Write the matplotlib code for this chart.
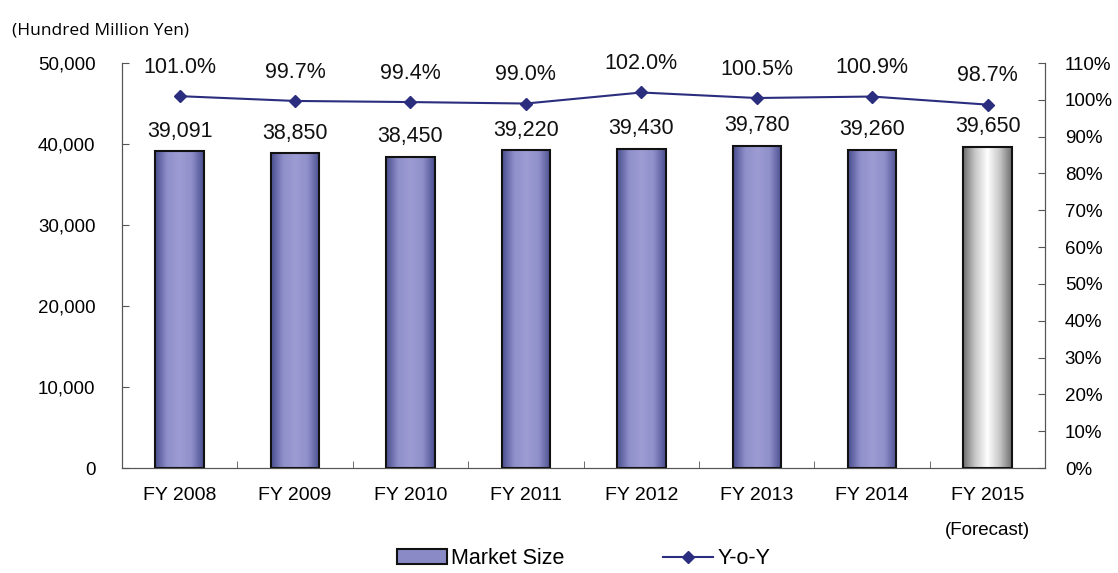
import numpy as np
import matplotlib.pyplot as plt
from matplotlib.colors import LinearSegmentedColormap
from matplotlib.lines import Line2D
from matplotlib.patches import Patch

years = ["FY 2008", "FY 2009", "FY 2010", "FY 2011", "FY 2012", "FY 2013", "FY 2014", "FY 2015"]
market_size = [39091, 38850, 38450, 39220, 39430, 39780, 39260, 39650]
yoy = [101.0, 99.7, 99.4, 99.0, 102.0, 100.5, 100.9, 98.7]

plt.rcParams['font.family'] = ['Liberation Sans', 'DejaVu Sans']

fig = plt.figure(figsize=(11.18, 5.73), dpi=100)
ax = fig.add_axes([0.109, 0.1832, 0.826, 0.7068])
ax2 = ax.twinx()

purple = LinearSegmentedColormap.from_list("p", ["#4a4e8e", "#8f8fca", "#9d9cd2", "#8f8fca", "#4a4e8e"])
gray = LinearSegmentedColormap.from_list("g", ["#6e6e6e", "#c8c8c8", "#ffffff", "#c8c8c8", "#6e6e6e"])
grad = np.linspace(0, 1, 256).reshape(1, -1)

x = np.arange(len(years))
w = 0.42
for i, v in enumerate(market_size):
    cmap = gray if i == len(years) - 1 else purple
    ax.imshow(grad, cmap=cmap, extent=(x[i] - w / 2, x[i] + w / 2, 0, v), aspect='auto', zorder=2)
    ax.text(x[i], v + 1200, f"{v:,}", ha='center', va='bottom', fontsize=15.5, color='#111')
ax.bar(x, market_size, width=w, facecolor='none', edgecolor='#111', linewidth=1.5, zorder=3)

ax.set_xlim(-0.5, len(years) - 0.5)
ax.set_ylim(0, 50000)
ax.set_yticks(range(0, 50001, 10000))
ax.set_yticklabels([f"{t:,}" for t in range(0, 50001, 10000)], fontsize=13.5)
ax.set_xticks(x)
ax.set_xticklabels(years, fontsize=14)
ax.set_xticks(np.arange(0.5, len(years) - 1, 1), minor=True)
ax.tick_params(axis='x', which='major', length=0, pad=14)
ax.tick_params(axis='x', which='minor', direction='in', length=5, color='#555')
ax.tick_params(axis='y', direction='in', length=5, color='#555', pad=19)
for s in ['left', 'right', 'bottom']:
    ax.spines[s].set_color('#555')
    ax2.spines[s].set_color('#555')
ax.spines['top'].set_visible(False)
ax2.spines['top'].set_visible(False)

ax2.plot(x, yoy, color='#2b2e7e', marker='D', markersize=6, linewidth=1.5, zorder=5)
for i, v in enumerate(yoy):
    ax2.text(x[i], v + 5.0, f"{v:.1f}%", ha='center', va='bottom', fontsize=15.5, color='#111')
ax2.set_ylim(0, 110)
ax2.set_yticks(range(0, 111, 10))
ax2.set_yticklabels([f"{t}%" for t in range(0, 111, 10)], fontsize=13.5)
ax2.tick_params(axis='y', direction='in', length=5, color='#555', pad=14)

fig.text(0.011, 0.946, "(Hundred Million Yen)", fontsize=12.5, family=['Open Sans', 'DejaVu Sans'], va='center')
ax.text(x[-1], -0.155, "(Forecast)", transform=ax.get_xaxis_transform(), ha='center', va='center', fontsize=13.5)

handles = [Patch(facecolor='#8a8ac6', edgecolor='#111', linewidth=1.5),
           Line2D([0], [0], color='#2b2e7e', marker='D', markersize=6, linewidth=1.5)]
fig.legend(handles, ["Market Size", "Y-o-Y"], loc='center', bbox_to_anchor=(0.522, 0.025),
           ncol=2, frameon=False, fontsize=15.5, columnspacing=4.6, handlelength=2.3, handletextpad=0.2)

fig.savefig("out.png", dpi=100)
